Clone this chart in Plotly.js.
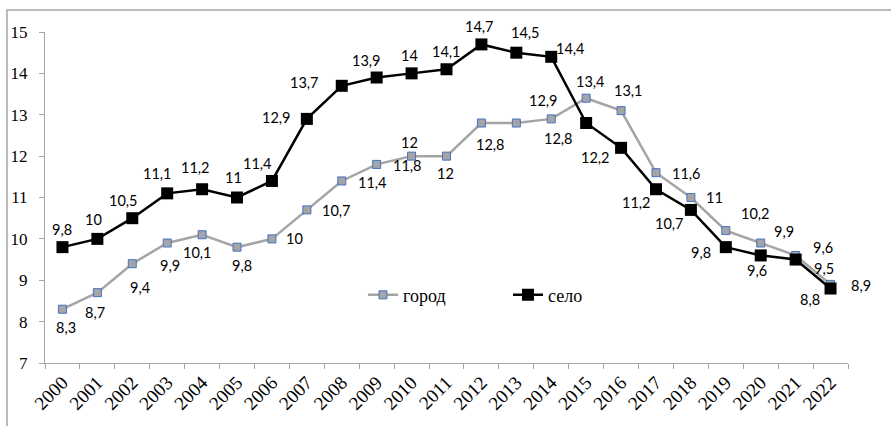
<!DOCTYPE html>
<html>
<head>
<meta charset="utf-8">
<script src="https://cdn.plot.ly/plotly-3.0.1.min.js"></script>
<style>html,body{margin:0;padding:0;background:#fff}#chart{width:891px;height:426px}</style>
</head>
<body>
<div id="chart"></div>
<script>
// ---- data ----
const years = ["2000","2001","2002","2003","2004","2005","2006","2007","2008","2009","2010","2011","2012","2013","2014","2015","2016","2017","2018","2019","2020","2021","2022"];
const gorod = [8.3, 8.7, 9.4, 9.9, 10.1, 9.8, 10, 10.7, 11.4, 11.8, 12, 12, 12.8, 12.8, 12.9, 13.4, 13.1, 11.6, 11, 10.2, 9.9, 9.6, 8.9];
const selo  = [9.8, 10, 10.5, 11.1, 11.2, 11, 11.4, 12.9, 13.7, 13.9, 14, 14.1, 14.7, 14.5, 14.4, 12.8, 12.2, 11.2, 10.7, 9.8, 9.6, 9.5, 8.8];
const seriesNames = ["город", "село"];
const yTicks = [7, 8, 9, 10, 11, 12, 13, 14, 15];

// ---- label placement (pixel offsets: [dx, dy], dy positive = up; null = no label) ----
const gorodLabelOffsets = [[4,-18],[-2,-20],[8,-24],[3,-22],[-5,-18],[5,-18],[23,0],[30,-1],[31,-2],[31,-1],[-2,14],[-1,-17],[9,-21],null,[-8,18],[4,17],[7,20],[31,-1],[24,0],[30,17],[23,12],[27,8],[30,-1]];
const seloLabelOffsets  = [[0,18],[-4,19],[-9,18],[-10,20],[-7,22],[-4,20],[-14,17],[-30,1],[-37,3],[-10,17],[-2,18],[0,18],[-2,18],[9,20],[19,8],[-28,-15],[-26,-10],[-19,-13],[-21,-14],[-25,-5],[-4,-15],[28,-9],[-21,-11]];

const SERIF = 'Times New Roman, Liberation Serif, Tinos, DejaVu Serif, serif';
const LABEL_FONT = 'Lato, Open Sans, sans-serif';

const fmt = v => String(v).replace('.', ',');

function makeLabels(vals, offs) {
  const out = [];
  vals.forEach((v, i) => {
    if (!offs[i]) return;
    out.push({
      x: i, y: v, xref: 'x', yref: 'y',   // category axis: serial index of years[i]
      text: fmt(v), showarrow: false,
      xshift: offs[i][0], yshift: offs[i][1],
      font: {family: LABEL_FONT, size: 14.5, color: '#000'}
    });
  });
  return out;
}

const traces = [
  {
    x: years, y: gorod, name: seriesNames[0], type: 'scatter', mode: 'lines+markers',
    line: {color: '#A5A5A5', width: 2.5},
    marker: {symbol: 'square', size: 8, color: '#A5A5A5', line: {color: '#4472C4', width: 1}}
  },
  {
    x: years, y: selo, name: seriesNames[1], type: 'scatter', mode: 'lines+markers',
    line: {color: '#000000', width: 2.5},
    marker: {symbol: 'square', size: 12, color: '#000000'}
  }
];

const layout = {
  width: 891, height: 426,
  margin: {l: 45, r: 43, t: 32, b: 63},
  paper_bgcolor: '#fff', plot_bgcolor: '#fff',
  showlegend: true,
  legend: {
    orientation: 'h', x: 0.396, xanchor: 'left', y: 0.205, yanchor: 'middle',
    font: {family: SERIF, size: 18, color: '#000'},
    entrywidth: 100, entrywidthmode: 'pixels', bgcolor: 'rgba(0,0,0,0)'
  },
  xaxis: {
    type: 'category', range: [-0.5, 22.5],
    showline: true, linecolor: '#A6A6A6', linewidth: 1,
    ticks: 'outside', ticklen: 5, tickcolor: '#A6A6A6', tickson: 'boundaries',
    tickangle: -45, showgrid: false, zeroline: false,
    tickfont: {family: SERIF, size: 19, color: '#000'}
  },
  yaxis: {
    range: [7, 15], tickvals: yTicks, ticktext: yTicks.map(String),
    showline: true, linecolor: '#A6A6A6', linewidth: 1,
    ticks: 'outside', ticklen: 5, tickcolor: '#A6A6A6',
    showgrid: false, zeroline: false, ticklabelstandoff: 8,
    tickfont: {family: SERIF, size: 17, color: '#000'}
  },
  annotations: makeLabels(gorod, gorodLabelOffsets).concat(makeLabels(selo, seloLabelOffsets)),
  shapes: [{
    type: 'rect', xref: 'paper', yref: 'paper',
    x0: (7 - 45) / 803, x1: 1.2, y0: -0.3, y1: (363 - 10) / 331,
    line: {color: '#A6A6A6', width: 1.5}, fillcolor: 'rgba(0,0,0,0)', layer: 'below'
  }]
};

Plotly.newPlot('chart', traces, layout, {displayModeBar: false, staticPlot: true});
</script>
</body>
</html>
